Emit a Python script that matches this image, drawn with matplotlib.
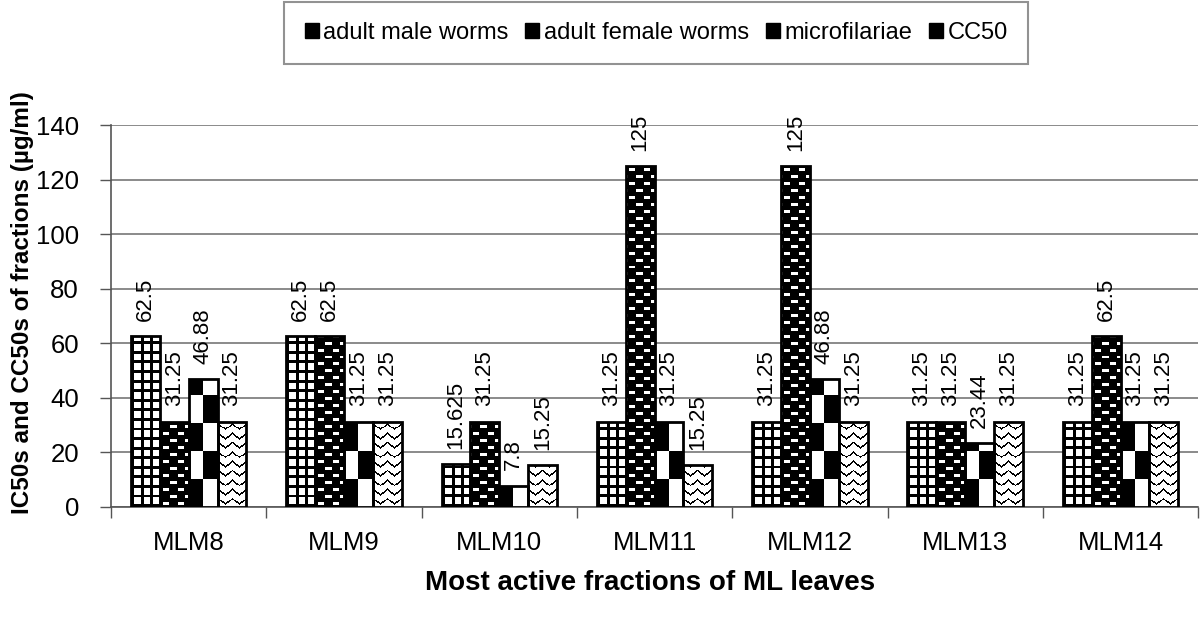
import numpy as np
import matplotlib
matplotlib.use('Agg')
import matplotlib.pyplot as plt
from matplotlib.patches import Patch

plt.rcParams['font.family'] = ['Liberation Sans', 'DejaVu Sans']

fractions = ['MLM8', 'MLM9', 'MLM10', 'MLM11', 'MLM12', 'MLM13', 'MLM14']
series_names = ['adult male worms', 'adult female worms', 'microfilariae', 'CC50']
male = [62.5, 62.5, 15.625, 31.25, 31.25, 31.25, 31.25]
female = [31.25, 62.5, 31.25, 125, 125, 31.25, 62.5]
micro = [46.88, 31.25, 7.8, 31.25, 46.88, 23.44, 31.25]
cc50 = [31.25, 31.25, 15.25, 15.25, 31.25, 31.25, 31.25]
yticks = [0, 20, 40, 60, 80, 100, 120, 140]

# pixel-art tiles, 1 = black (row 0 at bottom)
def tile_grid():
    t = np.zeros((10, 10))
    t[:3, :] = 1
    t[:, :3] = 1
    return t

def tile_bricks():
    t = np.ones((14, 14))
    t[2:5, 3:9] = 0
    t[9:12, 10:14] = 0
    t[9:12, 0:2] = 0
    return t

def tile_checker():
    return np.array([[1, 0], [0, 1]])

def tile_chevron():
    t = np.zeros((10, 15))
    for c in range(15):
        r = int(round(abs(c - 7) * 0.8))
        t[r + 2:r + 4, c] = 1
    t[:, 7] = np.where(np.arange(10) < 2, 0, t[:, 7])
    return t

tiles = [(tile_grid(), 0.062, 3.5), (tile_bricks(), 0.093, 5.1),
         (tile_checker(), 0.186, 20.5), (tile_chevron(), 0.093, 3.4)]

fig = plt.figure(figsize=(12, 6.22), dpi=100)
ax = fig.add_axes([0.0925, 0.185, 0.906, 0.614])

x = np.arange(len(fractions))
w = 0.186
all_series = [male, female, micro, cc50]

for i, vals in enumerate(all_series):
    pos = x + (i - 1.5) * w
    bars = ax.bar(pos, vals, w, color='white', edgecolor='none', zorder=2)
    tile, tw, th = tiles[i]
    for b in bars:
        x0 = b.get_x()
        h = b.get_height()
        nx = int(np.ceil(b.get_width() / tw)) + 1
        ny = int(np.ceil(h / th)) + 1
        img = np.tile(tile, (ny, nx))
        im = ax.imshow(img, cmap='gray_r', vmin=0, vmax=1, origin='lower',
                       extent=[x0, x0 + nx * tw, 0, ny * th], aspect='auto',
                       interpolation='nearest', zorder=3)
        im.set_clip_path(b)
    ax.bar(pos, vals, w, fill=False, edgecolor='black', linewidth=2, zorder=4)
    for p, v in zip(pos, vals):
        ax.annotate(f'{v:g}', (p, v), xytext=(0, 11), textcoords='offset points',
                    rotation=90, ha='center', va='bottom', fontsize=16)

ax.set_xlim(-0.5, len(fractions) - 0.5)
ax.set_ylim(0, 140)
ax.set_yticks(yticks)
ax.set_xticks(x)
ax.set_xticklabels(fractions, fontsize=18.5)
ax.set_xticks(np.arange(len(fractions) + 1) - 0.5, minor=True)
ax.tick_params(axis='x', which='major', length=0, pad=17)
ax.tick_params(axis='x', which='minor', length=8, width=1, color='#555555', direction='out')
ax.tick_params(axis='y', labelsize=18.5, length=8, width=1, color='#555555', pad=15)
ax.yaxis.grid(True, color='#777777', linewidth=1.2, zorder=0)
ax.set_axisbelow(True)
for s in ['top', 'right']:
    ax.spines[s].set_visible(False)
for s in ['left', 'bottom']:
    ax.spines[s].set_color('#555555')
    ax.spines[s].set_linewidth(1.2)

fig.text(0.019, 0.514, 'IC50s and CC50s of fractions (µg/ml)', rotation=90,
         ha='center', va='center', fontsize=17.5, fontweight='bold')
fig.text(0.542, 0.062, 'Most active fractions of ML leaves', ha='center',
         va='center', fontsize=20, fontweight='bold')

handles = [Patch(facecolor='black', edgecolor='black') for _ in series_names]
leg = fig.legend(handles, series_names, loc='upper center', ncol=4,
                 bbox_to_anchor=(0.547, 1.016), fontsize=17, frameon=True,
                 fancybox=False, handlelength=0.6, handleheight=0.6,
                 handletextpad=0.2, columnspacing=0.7, borderpad=0.85)
leg.get_frame().set_edgecolor('#777777')
leg.get_frame().set_linewidth(1.5)

fig.savefig('out.png', dpi=100)
